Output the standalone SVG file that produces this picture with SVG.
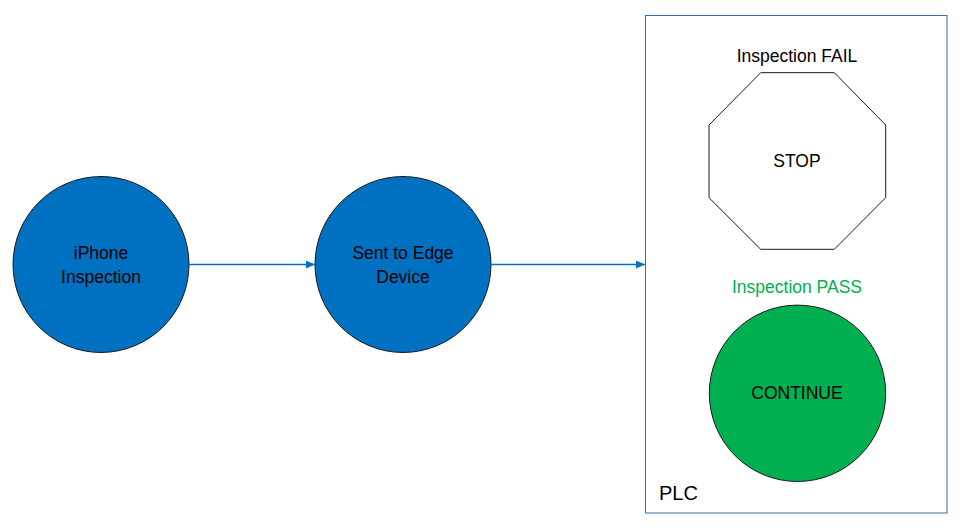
<svg xmlns="http://www.w3.org/2000/svg" width="960" height="528" viewBox="0 0 960 528">
<defs>
<style>
.t{font-family:"Liberation Sans",Arial,sans-serif;font-size:17.5px;fill:#000;text-anchor:middle}
.node{fill:#0070C0;stroke:#1a1a1a;stroke-width:1}
.conn{stroke:#0070C0;stroke-width:1.3;fill:none;marker-end:url(#ah)}
</style>
<marker id="ah" markerWidth="10" markerHeight="8" refX="9" refY="4" orient="auto" markerUnits="userSpaceOnUse">
<path d="M0,0 L9,4 L0,8 Z" fill="#0070C0"/>
</marker>
</defs>
<rect width="960" height="528" fill="#fff"/>
<g id="plc">
<rect x="645.5" y="15.5" width="301.5" height="497.5" fill="#fff" stroke="#2E6FB0" stroke-width="1"/>
<text x="659" y="500" style="font-family:'Liberation Sans',Arial,sans-serif;font-size:20px;fill:#000">PLC</text>
</g>
<g id="iphone">
<circle class="node" cx="101" cy="264.5" r="88"/>
<text class="t" x="101" y="259">iPhone</text>
<text class="t" x="101" y="283">Inspection</text>
</g>
<g id="edge">
<circle class="node" cx="403" cy="264.5" r="88"/>
<text class="t" x="403" y="259">Sent to Edge</text>
<text class="t" x="403" y="283">Device</text>
</g>
<g id="stop">
<text class="t" x="797" y="62">Inspection FAIL</text>
<polygon points="760.7,72.7 834.3,72.7 885.7,125 885.7,197.7 834.3,249.3 760.7,249.3 709,197.7 709,125" fill="#fff" stroke="#1a1a1a" stroke-width="1"/>
<text class="t" x="797" y="167">STOP</text>
</g>
<g id="continue">
<text class="t" x="797" y="293" style="fill:#00B050">Inspection PASS</text>
<circle cx="797.5" cy="393.3" r="88.2" fill="#00B050" stroke="#1a1a1a" stroke-width="1"/>
<text class="t" x="797" y="399">CONTINUE</text>
</g>
<g id="connectors">
<line class="conn" x1="189" y1="264.5" x2="315" y2="264.5"/>
<line class="conn" x1="491" y1="264.5" x2="645" y2="264.5"/>
</g>
</svg>
